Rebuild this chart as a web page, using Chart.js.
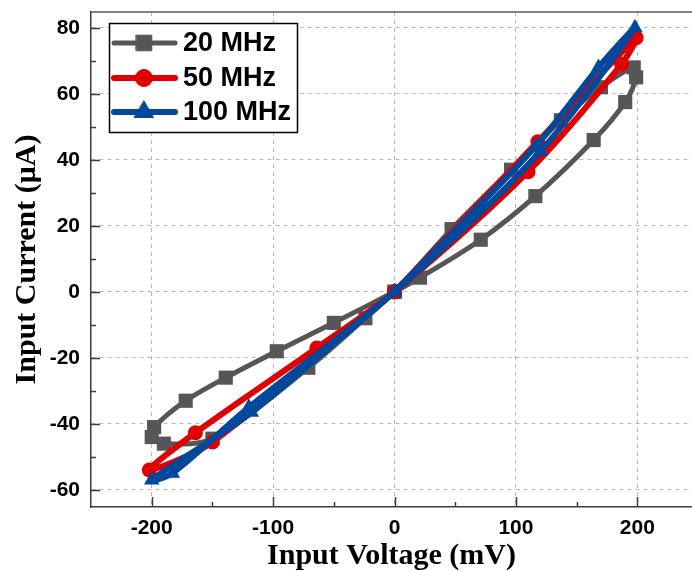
<!DOCTYPE html>
<html>
<head>
<meta charset="utf-8">
<script src="https://cdn.jsdelivr.net/npm/chart.js@4"></script>
<style>
  html, body { margin: 0; padding: 0; background: #fff; overflow: hidden; }
  canvas { display: block; }
</style>
</head>
<body>
<canvas id="loopChart" width="692" height="571"></canvas>
<script>
// I-V loops (mV, uA)
const voltage20 = [0, 21, 71, 116, 164, 190, 199, 197, 170, 137, 96, 47, 0, -24, -71, -150, -190, -200, -198, -172, -139, -97, -50, 0];
const current20 = [0, 4.3, 15.8, 29, 46, 57.5, 65, 68, 62, 52, 37, 19, 0, -8, -23, -44.5, -46, -44, -41, -33, -26, -18, -9.4, 0];

const voltage50 = [0, 118, 199, 187, 110, 0, -64, -164, -202, -150, 0];
const current50 = [0, 45.5, 77, 69, 36.4, 0, -17, -42.7, -54, -45.5, 0];

const voltage100 = [0, 116, 168, 198, 120, 0, -120, -183, -200, -118, 0];
const current100 = [0, 44, 68, 80, 42.5, 0, -35, -55, -57, -36.5, 0];

const seriesLabels = ["20 MHz", "50 MHz", "100 MHz"];
const xTickValues = [-200, -100, 0, 100, 200];
const yTickValues = [-60, -40, -20, 0, 20, 40, 60, 80];
const xMinorValues = [-150, -50, 50, 150];
const yMinorValues = [-50, -30, -10, 10, 30, 50, 70];

function toPoints(xs, ys) {
  return xs.map((v, i) => ({ x: v, y: ys[i] }));
}

const tickFont = { family: "'Liberation Sans', Arial, sans-serif", size: 21, weight: "bold" };
const titleFont = { family: "'Liberation Serif', 'Times New Roman', serif", size: 30, weight: "bold", lineHeight: 1 };

// keep the plot box fixed: no extra label padding
function fixSize(prop, value) {
  return function (scale) {
    scale[prop] = value;
    scale.paddingTop = 0;
    scale.paddingBottom = 0;
    scale.paddingLeft = 0;
    scale.paddingRight = 0;
  };
}

// top frame line + inward tick marks, major and minor
const innerTicks = {
  id: "innerTicks",
  beforeDatasetsDraw(chart) {
    const { ctx, chartArea } = chart;
    const x = chart.scales.x;
    const y = chart.scales.y;
    ctx.save();
    ctx.strokeStyle = "#5a5a5a";
    ctx.lineWidth = 1.5;
    ctx.beginPath();
    ctx.moveTo(chartArea.left, chartArea.top);
    ctx.lineTo(chartArea.right, chartArea.top);
    ctx.stroke();
    ctx.strokeStyle = "#3c3c3c";
    ctx.beginPath();
    xTickValues.concat(xMinorValues).forEach(function (v) {
      const px = Math.round(x.getPixelForValue(v)) + 0.5;
      const len = xTickValues.includes(v) ? 10 : 5;
      ctx.moveTo(px, chartArea.bottom);
      ctx.lineTo(px, chartArea.bottom - len);
    });
    yTickValues.concat(yMinorValues).forEach(function (v) {
      const py = Math.round(y.getPixelForValue(v)) + 0.5;
      const len = yTickValues.includes(v) ? 9 : 5;
      ctx.moveTo(chartArea.left, py);
      ctx.lineTo(chartArea.left + len, py);
    });
    ctx.stroke();
    ctx.restore();
  },
};

// boxed legend with line + marker samples
const boxLegend = {
  id: "boxLegend",
  afterDraw(chart) {
    const ctx = chart.ctx;
    const left = 109, top = 23, w = 188, h = 109;
    ctx.save();
    ctx.fillStyle = "#fff";
    ctx.fillRect(left, top, w, h);
    ctx.strokeStyle = "#000";
    ctx.lineWidth = 1.5;
    ctx.strokeRect(left + 0.5, top + 0.5, w, h);
    const rowY = [43, 78, 112];
    const legendRadius = [11, 8.5, 11];
    chart.data.datasets.forEach(function (ds, i) {
      const cy = rowY[i];
      ctx.strokeStyle = ds.borderColor;
      ctx.lineWidth = ds.borderWidth;
      ctx.lineCap = "round";
      ctx.beginPath();
      ctx.moveTo(114, cy);
      ctx.lineTo(175, cy);
      ctx.stroke();
      ctx.fillStyle = ds.backgroundColor;
      ctx.strokeStyle = ds.borderColor;
      ctx.lineWidth = 1;
      Chart.helpers.drawPoint(ctx, { pointStyle: ds.pointStyle, radius: legendRadius[i], borderWidth: 1, rotation: 0 }, 144, cy);
      ctx.fillStyle = "#000";
      ctx.font = "bold 27px 'Liberation Sans', Arial, sans-serif";
      ctx.textBaseline = "middle";
      ctx.textAlign = "left";
      ctx.fillText(ds.label, 183, cy + 1);
    });
    ctx.restore();
  },
};

const ctx = document.getElementById("loopChart").getContext("2d");
new Chart(ctx, {
  type: "scatter",
  data: {
    datasets: [
      {
        label: seriesLabels[0],
        data: toPoints(voltage20, current20),
        showLine: true,
        borderColor: "#565656",
        backgroundColor: "#565656",
        borderWidth: 5,
        pointStyle: "rect",
        pointRadius: 10,
        pointBorderWidth: 0,
        tension: 0.3,
        order: 3,
      },
      {
        label: seriesLabels[1],
        data: toPoints(voltage50, current50),
        showLine: true,
        borderColor: "#e10000",
        backgroundColor: "#e10000",
        borderWidth: 6,
        pointStyle: "circle",
        pointRadius: 7.5,
        pointBorderWidth: 0,
        tension: 0.3,
        order: 2,
      },
      {
        label: seriesLabels[2],
        data: toPoints(voltage100, current100),
        showLine: true,
        borderColor: "#03489a",
        backgroundColor: "#03489a",
        borderWidth: 6,
        pointStyle: "triangle",
        pointRadius: 9,
        pointBorderWidth: 0,
        tension: 0.3,
        order: 1,
      },
    ],
  },
  options: {
    responsive: false,
    animation: false,
    devicePixelRatio: 1,
    layout: { autoPadding: false, padding: { left: 0, top: 12, bottom: 0, right: 0 } },
    elements: { line: { borderCapStyle: "round", borderJoinStyle: "round" } },
    plugins: {
      legend: { display: false },
      tooltip: { enabled: false },
    },
    scales: {
      x: {
        type: "linear",
        position: "bottom",
        min: -250,
        max: 245,
        afterBuildTicks: (scale) => {
          scale.ticks = xTickValues.map((v) => ({ value: v }));
        },
        afterFit: fixSize("height", 64),
        grid: { color: "#b8b8b8", lineWidth: 1, drawTicks: false },
        border: { display: true, color: "#3c3c3c", width: 1.5, dash: [4, 4] },
        ticks: { font: tickFont, color: "#000", padding: 9, maxRotation: 0 },
        title: {
          display: true,
          text: "Input Voltage (mV)",
          font: titleFont,
          color: "#000",
          padding: { top: 0, bottom: 0 },
        },
      },
      y: {
        type: "linear",
        position: "left",
        min: -65.2,
        max: 84.8,
        afterBuildTicks: (scale) => {
          scale.ticks = yTickValues.map((v) => ({ value: v }));
        },
        afterFit: fixSize("width", 91),
        grid: { color: "#b8b8b8", lineWidth: 1, drawTicks: false },
        border: { display: true, color: "#3c3c3c", width: 1.5, dash: [4, 4] },
        ticks: { font: tickFont, color: "#000", padding: 11 },
        title: {
          display: true,
          text: "Input Current (μA)",
          font: titleFont,
          color: "#000",
          padding: { top: 12.5, bottom: 0 },
        },
      },
    },
  },
  plugins: [innerTicks, boxLegend],
});
</script>
</body>
</html>
